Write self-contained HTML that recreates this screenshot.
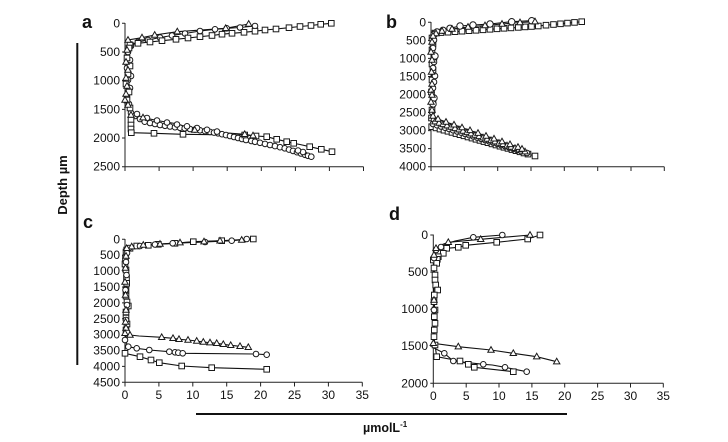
<!DOCTYPE html>
<html><head><meta charset="utf-8"><style>
html,body{margin:0;padding:0;background:#fff;}
svg{display:block;}
.l{fill:none;stroke:#111;stroke-width:1.1;}
.ax{fill:none;stroke:#222;stroke-width:1;}
.tk{font-family:"Liberation Sans",Arial,sans-serif;font-size:12px;fill:#111;}
.pl{font-family:"Liberation Sans",Arial,sans-serif;font-size:18px;font-weight:bold;fill:#111;}
</style></head><body>
<svg width="728" height="442" viewBox="0 0 728 442" xmlns="http://www.w3.org/2000/svg">
<defs>
<rect id="s" x="-2.8" y="-2.8" width="5.6" height="5.6" fill="#fff" stroke="#1a1a1a" stroke-width="1"/>
<circle id="c" r="2.8" fill="#fff" stroke="#1a1a1a" stroke-width="1"/>
<circle id="C" r="3.2" fill="#fff" stroke="#1a1a1a" stroke-width="1"/>
<path id="t" d="M0,-3.4 L3.2,2.2 L-3.2,2.2 Z" fill="#fff" stroke="#1a1a1a" stroke-width="1"/>
</defs>
<rect width="728" height="442" fill="#fff"/>

<!-- Global labels -->
<line x1="77.3" y1="43" x2="77.3" y2="365" stroke="#111" stroke-width="2"/>
<text transform="translate(67,185) rotate(-90)" text-anchor="middle" font-family="Liberation Sans, Arial, sans-serif" font-size="13" font-weight="bold" fill="#111">Depth µm</text>
<line x1="196" y1="414" x2="567" y2="414" stroke="#111" stroke-width="2"/>
<text x="363" y="432" font-family="Liberation Sans, Arial, sans-serif" font-size="12.5" font-weight="bold" fill="#111">µmolL<tspan font-size="8" dy="-5">-1</tspan></text>

<text class="pl" x="82" y="28">a</text>
<text class="pl" x="386" y="28">b</text>
<text class="pl" x="83" y="228">c</text>
<text class="pl" x="389" y="220">d</text>

<!-- ===== Panel a axes ===== -->
<g>
<line class="ax" x1="125" y1="23" x2="125" y2="166.7"/>
<line class="ax" x1="125" y1="166.7" x2="363.5" y2="166.7"/>
<path class="ax" d="M122,23.3H125M122,52H125M122,80.7H125M122,109.4H125M122,138H125M122,166.7H125"/>
<path class="ax" d="M125,166.7V171M159.1,166.7V171M193.1,166.7V171M227.2,166.7V171M261.3,166.7V171M295.4,166.7V171M329.4,166.7V171M363.5,166.7V171"/>
<g class="tk" text-anchor="end">
<text x="120" y="27.3">0</text><text x="120" y="56">500</text><text x="120" y="84.7">1000</text><text x="120" y="113.4">1500</text><text x="120" y="142">2000</text><text x="120" y="170.7">2500</text>
</g>
</g>
<!-- Panel a data -->
<polyline class="l" points="331.3,23.3 320.7,24.3 311,25.5 300,26.5 289,27.7 276,29 265,30 255,31.2 244,32.3 232,33.3 222,34.2 212,35.5 200,36.7 188,38 176,39.3 162,40.7 150,42 138,43.3 130,45 129,48 127,58 130,66 128,74 126,84 129,92 127,100 130,108 131,115 131,120 131,125 131,129 131.3,132.7 154,133.3 183,134.3 215,134.7 244.7,135 256,136 266.7,136.7 276.7,139.3 286.7,141.7 293.7,143.3 300,144.5 309.7,146.7 321.3,149.3 332,151.7"/>
<polyline class="l" points="255,26 240,27.5 226.7,28.3 215,29.3 200,31 185,33.5 172,35.5 160,37.5 148,40 138,42 131,44.5 131,46 128,52 130,60 127,68 131,76 128,80 130,88 127,96 129,104 131,113 135,116 140,119 144.7,121.7 150,123 155,124 160,125 165,125.8 170,126.5 175,127.2 180,127.8 184.7,128.3 190,129 195,129.6 200,130.3 205,131.1 210,131.9 214,132.6 218,133.3 222,134.2 226,135.1 230,136 234,137 238,138 242,139 246,140 251.3,141 255,141.8 260,142.8 265,143.9 270,145 275,146.1 280,147.2 284.7,148.3 289,149.6 293,150.9 297,152.2 301,153.5 305,154.8 308,155.8 311.3,156.7"/>
<polyline class="l" points="248.7,24 225.7,28.3 177.3,31.7 154.7,35 142,37.7 128,40 127,50 126,62 128,70 126,78 127,86 126,94 125,100 128,105 131,115 143,117.7 160,121 178,124 194.7,130 212,131.5 228,133 244.7,134.3 253,135.7"/>
<g>
<use href="#c" x="255" y="26"/><use href="#c" x="240" y="27.5"/><use href="#c" x="226.7" y="28.3"/><use href="#c" x="215" y="29.3"/><use href="#c" x="200" y="31"/><use href="#c" x="185" y="33.5"/><use href="#c" x="172" y="35.5"/><use href="#c" x="160" y="37.5"/><use href="#c" x="148" y="40"/><use href="#c" x="138" y="42"/><use href="#c" x="131" y="44.5"/><use href="#c" x="131" y="46"/><use href="#c" x="128" y="52"/><use href="#c" x="130" y="60"/><use href="#c" x="127" y="68"/><use href="#c" x="131" y="76"/><use href="#c" x="128" y="80"/><use href="#c" x="130" y="88"/><use href="#c" x="127" y="96"/><use href="#c" x="129" y="104"/><use href="#c" x="131" y="113"/><use href="#c" x="135" y="116"/><use href="#c" x="140" y="119"/><use href="#c" x="144.7" y="121.7"/><use href="#c" x="150" y="123"/><use href="#c" x="155" y="124"/><use href="#c" x="160" y="125"/><use href="#c" x="165" y="125.8"/><use href="#c" x="170" y="126.5"/><use href="#c" x="175" y="127.2"/><use href="#c" x="180" y="127.8"/><use href="#c" x="184.7" y="128.3"/><use href="#c" x="190" y="129"/><use href="#c" x="195" y="129.6"/><use href="#c" x="200" y="130.3"/><use href="#c" x="205" y="131.1"/><use href="#c" x="210" y="131.9"/><use href="#c" x="214" y="132.6"/><use href="#c" x="218" y="133.3"/><use href="#c" x="222" y="134.2"/><use href="#c" x="226" y="135.1"/><use href="#c" x="230" y="136"/><use href="#c" x="234" y="137"/><use href="#c" x="238" y="138"/><use href="#c" x="242" y="139"/><use href="#c" x="246" y="140"/><use href="#c" x="251.3" y="141"/><use href="#c" x="255" y="141.8"/><use href="#c" x="260" y="142.8"/><use href="#c" x="265" y="143.9"/><use href="#c" x="270" y="145"/><use href="#c" x="275" y="146.1"/><use href="#c" x="280" y="147.2"/><use href="#c" x="284.7" y="148.3"/><use href="#c" x="289" y="149.6"/><use href="#c" x="293" y="150.9"/><use href="#c" x="297" y="152.2"/><use href="#c" x="301" y="153.5"/><use href="#c" x="305" y="154.8"/><use href="#c" x="308" y="155.8"/><use href="#c" x="311.3" y="156.7"/>
<use href="#c" x="137" y="114"/><use href="#c" x="147" y="118"/><use href="#c" x="157" y="120.5"/><use href="#c" x="167" y="122.5"/><use href="#c" x="177" y="124.5"/><use href="#c" x="187" y="126.3"/><use href="#c" x="197" y="128"/><use href="#c" x="207" y="129.8"/><use href="#c" x="217" y="131.6"/><use href="#c" x="303" y="152"/><use href="#c" x="298" y="150.5"/>
</g>
<g>
<use href="#s" x="331.3" y="23.3"/><use href="#s" x="320.7" y="24.3"/><use href="#s" x="311" y="25.5"/><use href="#s" x="300" y="26.5"/><use href="#s" x="289" y="27.7"/><use href="#s" x="276" y="29"/><use href="#s" x="265" y="30"/><use href="#s" x="255" y="31.2"/><use href="#s" x="244" y="32.3"/><use href="#s" x="232" y="33.3"/><use href="#s" x="222" y="34.2"/><use href="#s" x="212" y="35.5"/><use href="#s" x="200" y="36.7"/><use href="#s" x="188" y="38"/><use href="#s" x="176" y="39.3"/><use href="#s" x="162" y="40.7"/><use href="#s" x="150" y="42"/><use href="#s" x="138" y="43.3"/><use href="#s" x="130" y="45"/><use href="#s" x="129" y="48"/><use href="#s" x="127" y="58"/><use href="#s" x="130" y="66"/><use href="#s" x="128" y="74"/><use href="#s" x="126" y="84"/><use href="#s" x="129" y="92"/><use href="#s" x="127" y="100"/><use href="#s" x="130" y="108"/><use href="#s" x="131" y="120"/><use href="#s" x="131" y="125"/><use href="#s" x="131" y="129"/><use href="#s" x="131.3" y="132.7"/><use href="#s" x="154" y="133.3"/><use href="#s" x="183" y="134.3"/><use href="#s" x="244.7" y="135"/><use href="#s" x="256" y="136"/><use href="#s" x="266.7" y="136.7"/><use href="#s" x="276.7" y="139.3"/><use href="#s" x="286.7" y="141.7"/><use href="#s" x="293.7" y="143.3"/><use href="#s" x="309.7" y="146.7"/><use href="#s" x="321.3" y="149.3"/><use href="#s" x="332" y="151.7"/>
</g>
<g>
<use href="#t" x="248.7" y="24"/><use href="#t" x="225.7" y="28.3"/><use href="#t" x="177.3" y="31.7"/><use href="#t" x="154.7" y="35"/><use href="#t" x="142" y="37.7"/><use href="#t" x="128" y="40"/><use href="#t" x="127" y="50"/><use href="#t" x="126" y="62"/><use href="#t" x="128" y="70"/><use href="#t" x="126" y="78"/><use href="#t" x="127" y="86"/><use href="#t" x="126" y="94"/><use href="#t" x="125" y="100"/><use href="#t" x="128" y="105"/><use href="#t" x="131" y="115"/><use href="#t" x="143" y="117.7"/><use href="#t" x="194.7" y="130"/><use href="#t" x="244.7" y="134.3"/><use href="#t" x="253" y="135.7"/>
</g>

<!-- ===== Panel b axes ===== -->
<g>
<line class="ax" x1="431" y1="22" x2="431" y2="166.7"/>
<line class="ax" x1="431" y1="166.7" x2="664.3" y2="166.7"/>
<path class="ax" d="M428,22.3H431M428,40.35H431M428,58.4H431M428,76.45H431M428,94.5H431M428,112.55H431M428,130.6H431M428,148.65H431M428,166.7H431"/>
<path class="ax" d="M431,166.7V171M464.3,166.7V171M497.7,166.7V171M531,166.7V171M564.3,166.7V171M597.7,166.7V171M631,166.7V171M664.3,166.7V171"/>
<g class="tk" text-anchor="end">
<text x="426" y="26.3">0</text><text x="426" y="44.35">500</text><text x="426" y="62.4">1000</text><text x="426" y="80.45">1500</text><text x="426" y="98.5">2000</text><text x="426" y="116.55">2500</text><text x="426" y="134.6">3000</text><text x="426" y="152.65">3500</text><text x="426" y="170.7">4000</text>
</g>
</g>
<!-- Panel b data -->
<polyline class="l" points="581.7,21.7 574.5,22.4 567.5,23.1 560.5,23.8 553.5,24.5 546,25.2 538.3,26 531.5,26.5 525,26.9 518.3,27.4 511,27.9 504,28.3 497,28.8 490,29.3 483,29.8 476,30.3 469,30.7 462,31.2 455,31.7 448,32.2 441,32.6 435,33.1 432,33.5 432,38 433,44 432,50 434,57 432,64 433,70 432,80 431.5,92 433,100 432,110 431.5,118 431.7,126.7 436,127.9 440,129.1 444,130.2 448,131.3 452,132.4 456,133.6 460,134.7 464,135.8 468,137 472,138.1 476,139.3 480,140.4 484,141.6 488,142.7 492,143.9 496,145 500,146.2 504,147.3 508,148.4 512,149.6 516,150.7 520,151.8 524,153 528,154.1 535,156"/>
<polyline class="l" points="531.7,20.7 511.7,21.7 490,24 473,25 460,26 450,28.3 443,30.3 437,32 434,34.5 434,40 433,48 435,56 434,62 433,68 435,76 434,82 433,88 434,98 433,104 432,112 434,120 433,124 437,125.2 441,126.5 445,127.7 449,128.9 453,130.2 457,131.4 461,132.6 465,133.9 469,135.1 473,136.3 477,137.6 481,138.8 485,140 489,141.3 493,142.5 497,143.7 501,145 505,146.2 509,147.4 513,148.7 517,149.9 521,151.1 527,153"/>
<polyline class="l" points="535,21.7 520,22.5 502,24 485,25.5 468,27 452,29 442,31 436,33.5 433,36 432,42 431,52 432,60 431.5,72 432,84 431,90 432,95 431,102 432,110 433,116 435,121.7 439,123 443,124.4 447,125.7 451,127 455,128.4 459,129.7 463,131 467,132.4 471,133.7 475,135 479,136.4 483,137.7 487,139 491,140.4 495,141.7 499,143 503,144.3 507,145.7 511,147 515,148.3 519,149.7 525,151.7"/>
<polyline class="l" points="438,119 446,122 454,124.8 462,127.6 470,130.4 478,133.2 486,136 494,138.8 502,141.6 510,144.4 518,147.2 522,149"/>
<g>
<use href="#s" x="581.7" y="21.7"/><use href="#s" x="574.5" y="22.4"/><use href="#s" x="567.5" y="23.1"/><use href="#s" x="560.5" y="23.8"/><use href="#s" x="553.5" y="24.5"/><use href="#s" x="546" y="25.2"/><use href="#s" x="538.3" y="26"/><use href="#s" x="531.5" y="26.5"/><use href="#s" x="525" y="26.9"/><use href="#s" x="518.3" y="27.4"/><use href="#s" x="511" y="27.9"/><use href="#s" x="504" y="28.3"/><use href="#s" x="497" y="28.8"/><use href="#s" x="490" y="29.3"/><use href="#s" x="483" y="29.8"/><use href="#s" x="476" y="30.3"/><use href="#s" x="469" y="30.7"/><use href="#s" x="462" y="31.2"/><use href="#s" x="455" y="31.7"/><use href="#s" x="448" y="32.2"/><use href="#s" x="441" y="32.6"/><use href="#s" x="435" y="33.1"/><use href="#s" x="432" y="38"/><use href="#s" x="433" y="44"/><use href="#s" x="432" y="50"/><use href="#s" x="434" y="57"/><use href="#s" x="432" y="64"/><use href="#s" x="433" y="70"/><use href="#s" x="432" y="80"/><use href="#s" x="431.5" y="92"/><use href="#s" x="433" y="100"/><use href="#s" x="432" y="110"/><use href="#s" x="431.5" y="118"/><use href="#s" x="431.7" y="126.7"/><use href="#s" x="436" y="127.9"/><use href="#s" x="440" y="129.1"/><use href="#s" x="444" y="130.2"/><use href="#s" x="448" y="131.3"/><use href="#s" x="452" y="132.4"/><use href="#s" x="456" y="133.6"/><use href="#s" x="460" y="134.7"/><use href="#s" x="464" y="135.8"/><use href="#s" x="468" y="137"/><use href="#s" x="472" y="138.1"/><use href="#s" x="476" y="139.3"/><use href="#s" x="480" y="140.4"/><use href="#s" x="484" y="141.6"/><use href="#s" x="488" y="142.7"/><use href="#s" x="492" y="143.9"/><use href="#s" x="496" y="145"/><use href="#s" x="500" y="146.2"/><use href="#s" x="504" y="147.3"/><use href="#s" x="508" y="148.4"/><use href="#s" x="512" y="149.6"/><use href="#s" x="516" y="150.7"/><use href="#s" x="520" y="151.8"/><use href="#s" x="524" y="153"/><use href="#s" x="528" y="154.1"/><use href="#s" x="535" y="156"/>
</g>
<g>
<use href="#C" x="531.7" y="20.7"/><use href="#C" x="511.7" y="21.7"/><use href="#C" x="490" y="24"/><use href="#C" x="473" y="25"/><use href="#C" x="460" y="26"/><use href="#C" x="450" y="28.3"/><use href="#C" x="443" y="30.3"/><use href="#C" x="437" y="32"/><use href="#C" x="434" y="34.5"/><use href="#c" x="434" y="40"/><use href="#c" x="433" y="48"/><use href="#C" x="435" y="56"/><use href="#c" x="434" y="62"/><use href="#c" x="433" y="68"/><use href="#c" x="435" y="76"/><use href="#c" x="434" y="82"/><use href="#c" x="433" y="88"/><use href="#C" x="434" y="98"/><use href="#C" x="433" y="104"/><use href="#c" x="432" y="112"/><use href="#c" x="434" y="120"/><use href="#c" x="433" y="124"/><use href="#c" x="437" y="125.2"/><use href="#c" x="441" y="126.5"/><use href="#c" x="445" y="127.7"/><use href="#c" x="449" y="128.9"/><use href="#c" x="453" y="130.2"/><use href="#c" x="457" y="131.4"/><use href="#c" x="461" y="132.6"/><use href="#c" x="465" y="133.9"/><use href="#c" x="469" y="135.1"/><use href="#c" x="473" y="136.3"/><use href="#c" x="477" y="137.6"/><use href="#c" x="481" y="138.8"/><use href="#c" x="485" y="140"/><use href="#c" x="489" y="141.3"/><use href="#c" x="493" y="142.5"/><use href="#c" x="497" y="143.7"/><use href="#c" x="501" y="145"/><use href="#c" x="505" y="146.2"/><use href="#c" x="509" y="147.4"/><use href="#c" x="513" y="148.7"/><use href="#c" x="517" y="149.9"/><use href="#c" x="521" y="151.1"/><use href="#c" x="527" y="153"/>
</g>
<g>
<use href="#t" x="535" y="21.7"/><use href="#t" x="520" y="22.5"/><use href="#t" x="502" y="24"/><use href="#t" x="485" y="25.5"/><use href="#t" x="468" y="27"/><use href="#t" x="452" y="29"/><use href="#t" x="442" y="31"/><use href="#t" x="436" y="33.5"/><use href="#t" x="433" y="36"/><use href="#t" x="432" y="42"/><use href="#t" x="431" y="52"/><use href="#t" x="432" y="60"/><use href="#t" x="431.5" y="72"/><use href="#t" x="432" y="84"/><use href="#t" x="431" y="90"/><use href="#t" x="432" y="95"/><use href="#t" x="431" y="102"/><use href="#t" x="432" y="110"/><use href="#t" x="433" y="116"/><use href="#t" x="435" y="121.7"/><use href="#t" x="439" y="123"/><use href="#t" x="443" y="124.4"/><use href="#t" x="447" y="125.7"/><use href="#t" x="451" y="127"/><use href="#t" x="455" y="128.4"/><use href="#t" x="459" y="129.7"/><use href="#t" x="463" y="131"/><use href="#t" x="467" y="132.4"/><use href="#t" x="471" y="133.7"/><use href="#t" x="475" y="135"/><use href="#t" x="479" y="136.4"/><use href="#t" x="483" y="137.7"/><use href="#t" x="487" y="139"/><use href="#t" x="491" y="140.4"/><use href="#t" x="495" y="141.7"/><use href="#t" x="499" y="143"/><use href="#t" x="503" y="144.3"/><use href="#t" x="507" y="145.7"/><use href="#t" x="511" y="147"/><use href="#t" x="515" y="148.3"/><use href="#t" x="519" y="149.7"/><use href="#t" x="525" y="151.7"/>
<use href="#t" x="438" y="119"/><use href="#t" x="446" y="122"/><use href="#t" x="454" y="124.8"/><use href="#t" x="462" y="127.6"/><use href="#t" x="470" y="130.4"/><use href="#t" x="478" y="133.2"/><use href="#t" x="486" y="136"/><use href="#t" x="494" y="138.8"/><use href="#t" x="502" y="141.6"/><use href="#t" x="510" y="144.4"/><use href="#t" x="518" y="147.2"/><use href="#t" x="522" y="149"/>
</g>

<!-- ===== Panel c axes ===== -->
<g>
<line class="ax" x1="125" y1="239" x2="125" y2="382.3"/>
<line class="ax" x1="125" y1="382.3" x2="362.3" y2="382.3"/>
<path class="ax" d="M122,239.3H125M122,255.2H125M122,271.1H125M122,287H125M122,302.9H125M122,318.8H125M122,334.6H125M122,350.5H125M122,366.4H125M122,382.3H125"/>
<path class="ax" d="M125,382.3V386.5M158.9,382.3V386.5M192.8,382.3V386.5M226.7,382.3V386.5M260.6,382.3V386.5M294.5,382.3V386.5M328.4,382.3V386.5M362.3,382.3V386.5"/>
<g class="tk" text-anchor="end">
<text x="120" y="243.3">0</text><text x="120" y="259.2">500</text><text x="120" y="275.1">1000</text><text x="120" y="291">1500</text><text x="120" y="306.9">2000</text><text x="120" y="322.8">2500</text><text x="120" y="338.6">3000</text><text x="120" y="354.5">3500</text><text x="120" y="370.4">4000</text><text x="120" y="386.3">4500</text>
</g>
<g class="tk" text-anchor="middle">
<text x="125" y="399">0</text><text x="158.9" y="399">5</text><text x="192.8" y="399">10</text><text x="226.7" y="399">15</text><text x="260.6" y="399">20</text><text x="294.5" y="399">25</text><text x="328.4" y="399">30</text><text x="362.3" y="399">35</text>
</g>
</g>
<!-- Panel c data -->
<polyline class="l" points="253.3,239 221.7,240.7 193.3,241.7 175,243.3 158.3,244.3 148.3,245.3 136.7,246 130,248.3 126.7,250 126,252 125.5,258 125,264 126,270 126.5,278 126.7,283.3 126,290 126,296 127,302 128.3,306 126,312 126,318 127,324 126,330 125,345 125,353.3 140,356.7 151,360 159.3,362.7 181.7,366 211.7,367.7 266.7,369.3"/>
<polyline class="l" points="246.7,239 231.7,240.7 205,242 172.7,243.3 155,244.5 140,246 129,248 127,253 126,262 126.5,275 125.5,290 127,305 126,320 127,332 125,340 128.3,346.7 136.7,348.3 149.3,350 169.3,351.7 175,352.3 178.3,352.7 182.7,353.3 256,354 266.7,354.7"/>
<polyline class="l" points="241.7,240 220,240.8 204,241.7 180,242.7 160,244 143.3,245 131.7,246.7 126.7,248.3 126,256 125.5,268 125,282 125.5,295 126,310 125.5,322 126,328 125,333.3 130,335 139,336 161.7,337.3 173,338.3 179,339.3 188,340 196.7,341 203.3,342 210,342.7 216.7,343.3 223.3,344.3 230.7,345.3 240,346.3 248.3,347.3"/>
<g>
<use href="#s" x="253.3" y="239"/><use href="#s" x="221.7" y="240.7"/><use href="#s" x="193.3" y="241.7"/><use href="#s" x="175" y="243.3"/><use href="#s" x="158.3" y="244.3"/><use href="#s" x="148.3" y="245.3"/><use href="#s" x="136.7" y="246"/><use href="#s" x="130" y="248.3"/><use href="#s" x="126.7" y="250"/><use href="#s" x="126" y="252"/><use href="#s" x="125.5" y="258"/><use href="#s" x="125" y="264"/><use href="#s" x="126" y="270"/><use href="#s" x="126.5" y="278"/><use href="#s" x="126.7" y="283.3"/><use href="#s" x="126" y="290"/><use href="#s" x="126" y="296"/><use href="#s" x="127" y="302"/><use href="#s" x="128.3" y="306"/><use href="#s" x="126" y="312"/><use href="#s" x="126" y="318"/><use href="#s" x="127" y="324"/><use href="#s" x="126" y="330"/><use href="#s" x="125" y="353.3"/><use href="#s" x="140" y="356.7"/><use href="#s" x="151" y="360"/><use href="#s" x="159.3" y="362.7"/><use href="#s" x="181.7" y="366"/><use href="#s" x="211.7" y="367.7"/><use href="#s" x="266.7" y="369.3"/>
</g>
<g>
<use href="#c" x="246.7" y="239"/><use href="#c" x="231.7" y="240.7"/><use href="#c" x="205" y="242"/><use href="#c" x="172.7" y="243.3"/><use href="#c" x="155" y="244.5"/><use href="#c" x="140" y="246"/><use href="#c" x="129" y="248"/><use href="#c" x="127" y="253"/><use href="#c" x="126" y="262"/><use href="#c" x="126.5" y="275"/><use href="#c" x="125.5" y="290"/><use href="#c" x="127" y="305"/><use href="#c" x="126" y="320"/><use href="#c" x="127" y="332"/><use href="#c" x="125" y="340"/><use href="#c" x="128.3" y="346.7"/><use href="#c" x="136.7" y="348.3"/><use href="#c" x="149.3" y="350"/><use href="#c" x="169.3" y="351.7"/><use href="#c" x="175" y="352.3"/><use href="#c" x="178.3" y="352.7"/><use href="#c" x="182.7" y="353.3"/><use href="#c" x="256" y="354"/><use href="#c" x="266.7" y="354.7"/>
</g>
<g>
<use href="#t" x="241.7" y="240"/><use href="#t" x="220" y="240.8"/><use href="#t" x="204" y="241.7"/><use href="#t" x="180" y="242.7"/><use href="#t" x="160" y="244"/><use href="#t" x="143.3" y="245"/><use href="#t" x="131.7" y="246.7"/><use href="#t" x="126.7" y="248.3"/><use href="#t" x="126" y="256"/><use href="#t" x="125.5" y="268"/><use href="#t" x="125" y="282"/><use href="#t" x="125.5" y="295"/><use href="#t" x="126" y="310"/><use href="#t" x="125.5" y="322"/><use href="#t" x="126" y="328"/><use href="#t" x="125" y="333.3"/><use href="#t" x="130" y="335"/><use href="#t" x="161.7" y="337.3"/><use href="#t" x="173" y="338.3"/><use href="#t" x="179" y="339.3"/><use href="#t" x="188" y="340"/><use href="#t" x="196.7" y="341"/><use href="#t" x="203.3" y="342"/><use href="#t" x="210" y="342.7"/><use href="#t" x="216.7" y="343.3"/><use href="#t" x="223.3" y="344.3"/><use href="#t" x="230.7" y="345.3"/><use href="#t" x="240" y="346.3"/><use href="#t" x="248.3" y="347.3"/>
</g>

<!-- ===== Panel d axes ===== -->
<g>
<line class="ax" x1="433.3" y1="234.5" x2="433.3" y2="383.3"/>
<line class="ax" x1="433.3" y1="383.3" x2="663.3" y2="383.3"/>
<path class="ax" d="M430.3,235H433.3M430.3,272.1H433.3M430.3,309.2H433.3M430.3,346.2H433.3M430.3,383.3H433.3"/>
<path class="ax" d="M433.3,383.3V387.5M466.2,383.3V387.5M499,383.3V387.5M531.9,383.3V387.5M564.7,383.3V387.5M597.6,383.3V387.5M630.5,383.3V387.5M663.3,383.3V387.5"/>
<g class="tk" text-anchor="end">
<text x="428" y="239">0</text><text x="428" y="276.1">500</text><text x="428" y="313.2">1000</text><text x="428" y="350.2">1500</text><text x="428" y="387.3">2000</text>
</g>
<g class="tk" text-anchor="middle">
<text x="433.3" y="400">0</text><text x="466.2" y="400">5</text><text x="499" y="400">10</text><text x="531.9" y="400">15</text><text x="564.7" y="400">20</text><text x="597.6" y="400">25</text><text x="630.5" y="400">30</text><text x="663.3" y="400">35</text>
</g>
</g>
<!-- Panel d data -->
<polyline class="l" points="540,235 527.7,239 496.7,242.3 465.7,245.3 458.3,247.3 446.7,248.3 443.3,253.3 438.3,256.7 437.3,259.3 433.3,260 436.7,263.3 434,268 435,275 435,280 435.7,285 437.7,290 434.3,295 434,301.7 435,310 434.3,316.7 435,323.3 434.3,330 434,336.7 435,345 436.7,356.7 460,361 468.3,364.3 474.3,367.3 513.3,371.7"/>
<polyline class="l" points="502.3,235 473.3,237.3 455,241 446,244 441,247 436,250 434,258 434,270 433.5,290 434,310 433.5,330 434,348 444.3,353.3 453.3,361 483.3,364.3 492.3,365 505,367.3 526.7,371.7"/>
<polyline class="l" points="530,235 480.7,239.3 448.3,242.3 441,245 436,248.3 434,255 433.5,275 434,300 433.5,325 433.3,343.3 458.3,346.7 491,350 513.3,353.3 536.7,356.7 556.7,361.7"/>
<g>
<use href="#s" x="540" y="235"/><use href="#s" x="527.7" y="239"/><use href="#s" x="496.7" y="242.3"/><use href="#s" x="465.7" y="245.3"/><use href="#s" x="458.3" y="247.3"/><use href="#s" x="446.7" y="248.3"/><use href="#s" x="443.3" y="253.3"/><use href="#s" x="438.3" y="256.7"/><use href="#s" x="437.3" y="259.3"/><use href="#s" x="433.3" y="260"/><use href="#s" x="436.7" y="263.3"/><use href="#s" x="434" y="268"/><use href="#s" x="435" y="275"/><use href="#s" x="435" y="280"/><use href="#s" x="435.7" y="285"/><use href="#s" x="437.7" y="290"/><use href="#s" x="434.3" y="295"/><use href="#s" x="434" y="301.7"/><use href="#s" x="435" y="310"/><use href="#s" x="434.3" y="316.7"/><use href="#s" x="435" y="323.3"/><use href="#s" x="434.3" y="330"/><use href="#s" x="434" y="336.7"/><use href="#s" x="435" y="345"/><use href="#s" x="436.7" y="356.7"/><use href="#s" x="460" y="361"/><use href="#s" x="468.3" y="364.3"/><use href="#s" x="474.3" y="367.3"/><use href="#s" x="513.3" y="371.7"/>
</g>
<g>
<use href="#c" x="502.3" y="235"/><use href="#c" x="473.3" y="237.3"/><use href="#c" x="441" y="247"/><use href="#c" x="436" y="250"/><use href="#c" x="434" y="258"/><use href="#c" x="434" y="310"/><use href="#c" x="444.3" y="353.3"/><use href="#c" x="453.3" y="361"/><use href="#c" x="483.3" y="364.3"/><use href="#c" x="505" y="367.3"/><use href="#c" x="526.7" y="371.7"/>
</g>
<g>
<use href="#t" x="530" y="235"/><use href="#t" x="480.7" y="239.3"/><use href="#t" x="448.3" y="242.3"/><use href="#t" x="436" y="248.3"/><use href="#t" x="434" y="255"/><use href="#t" x="434" y="300"/><use href="#t" x="433.3" y="343.3"/><use href="#t" x="458.3" y="346.7"/><use href="#t" x="491" y="350"/><use href="#t" x="513.3" y="353.3"/><use href="#t" x="536.7" y="356.7"/><use href="#t" x="556.7" y="361.7"/>
</g>
</svg>
</body></html>
